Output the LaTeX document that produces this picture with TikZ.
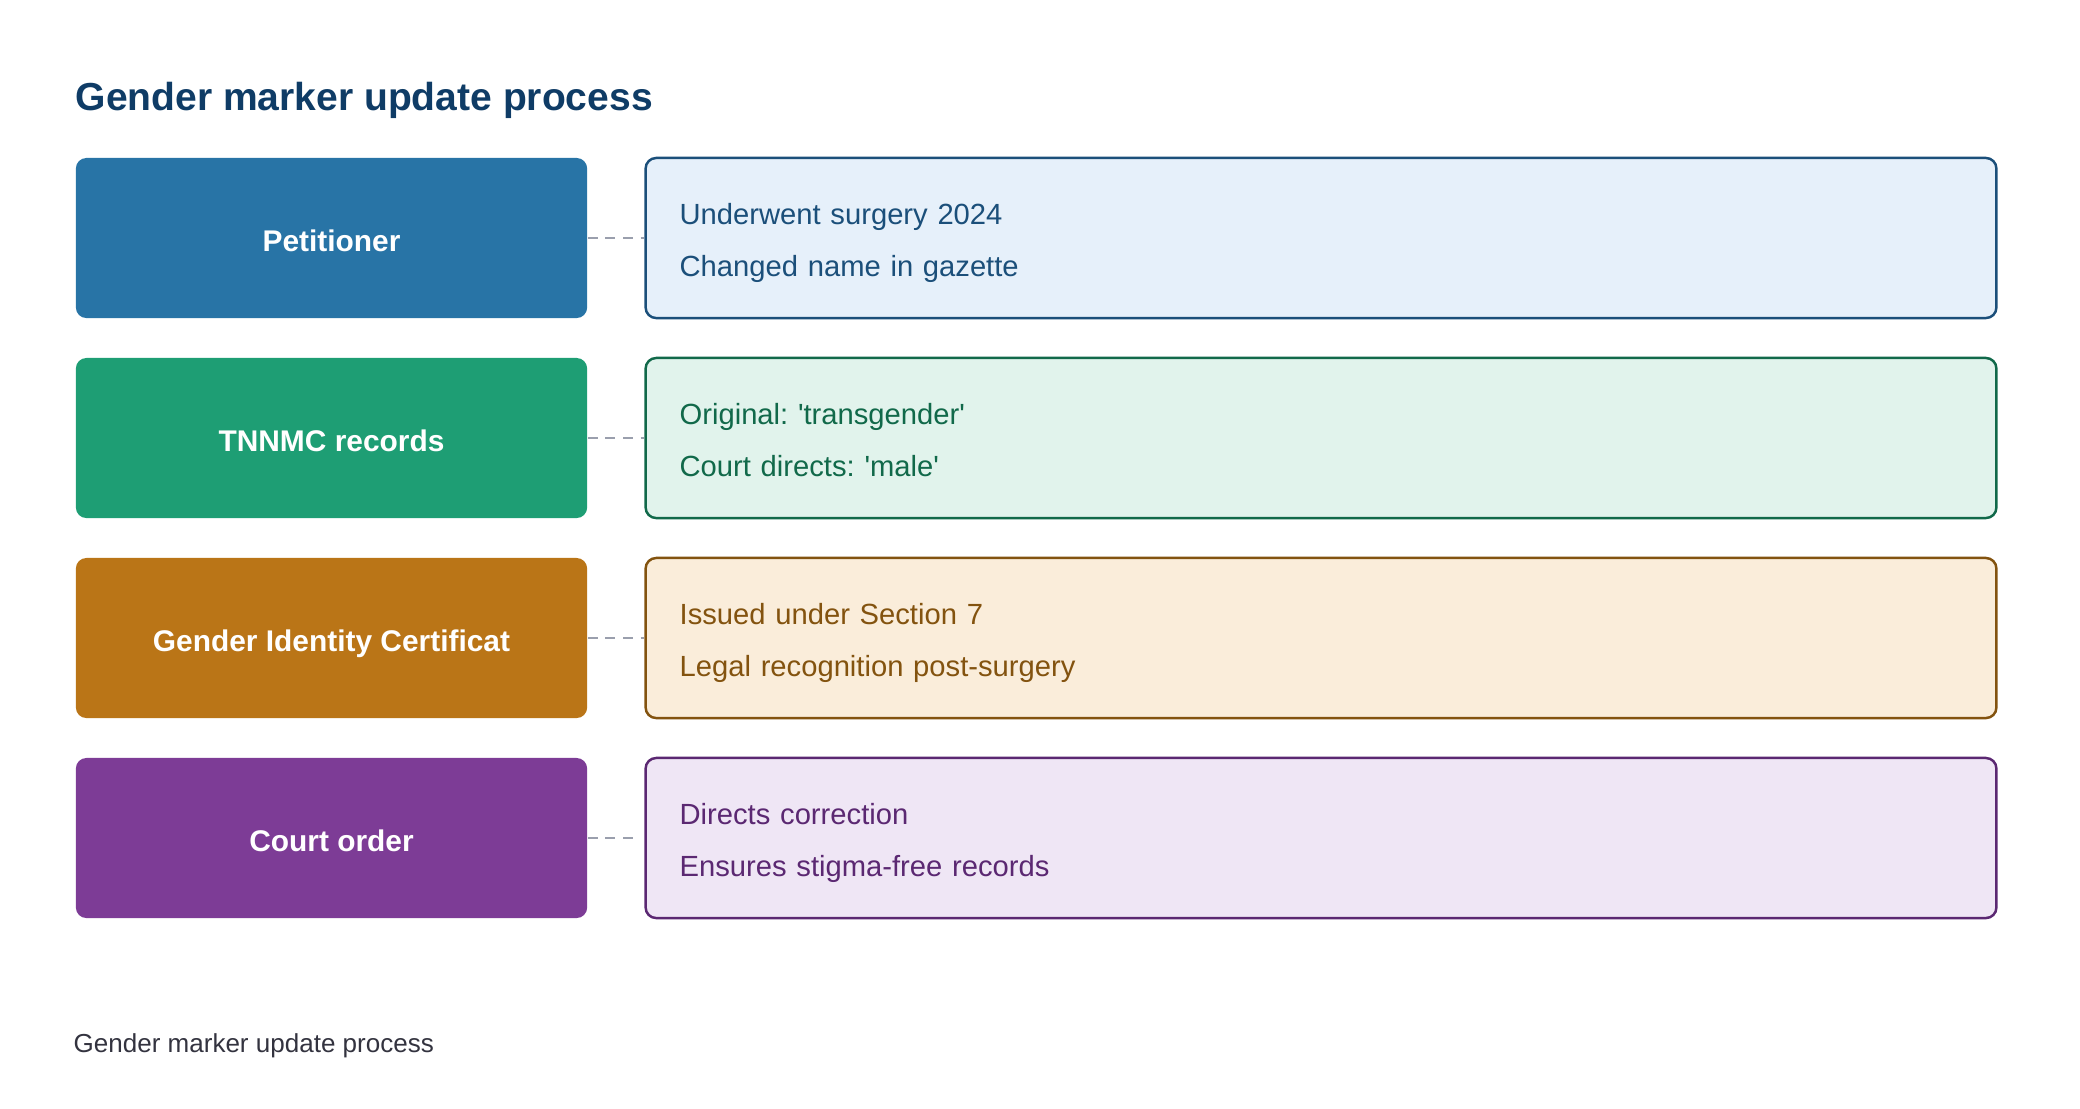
\documentclass[tikz,border=0pt]{standalone}
\usepackage{fontspec}
\setmainfont{Liberation Sans}
\definecolor{petfill}{HTML}{2874A6}
\definecolor{petdark}{HTML}{1B4F7A}
\definecolor{petlight}{HTML}{E6F0FA}
\definecolor{recfill}{HTML}{1E9E74}
\definecolor{recdark}{HTML}{11694A}
\definecolor{reclight}{HTML}{E1F3EC}
\definecolor{certfill}{HTML}{BA7517}
\definecolor{certdark}{HTML}{83530F}
\definecolor{certlight}{HTML}{FAEDDA}
\definecolor{ordfill}{HTML}{7D3C96}
\definecolor{orddark}{HTML}{5B2872}
\definecolor{ordlight}{HTML}{EFE6F5}
\definecolor{titleblue}{HTML}{0F3C66}
\definecolor{footgray}{HTML}{33333F}
\definecolor{linkgray}{HTML}{9A9FAD}
\frenchspacing
\begin{document}
\begin{tikzpicture}[x=0.01cm,y=-0.01cm]
\tikzstyle{who}=[rounded corners=3pt,minimum width=5.11cm,minimum height=1.6cm,
  text height=7.6pt,text depth=0pt,text=white,font=\fontsize{8.5}{10}\selectfont\bfseries];
\tikzstyle{facts}=[draw,line width=0.7pt,rounded corners=3pt,minimum width=13.5cm,minimum height=1.6cm,
  text width=12.82cm,inner xsep=0.34cm,align=left,font=\fontsize{8.3}{14.8}\selectfont,
  execute at begin node={\rule{0pt}{8.9pt}},execute at end node={\rule[-1.8pt]{0pt}{1.8pt}}];
\tikzstyle{link}=[linkgray,line width=0.7pt,dash pattern=on 2.8pt off 2.2pt,shorten >=2pt];
\useasboundingbox (0,0) rectangle (2080,1108);
\node[anchor=west,text=titleblue,font=\fontsize{11.1}{13}\selectfont\bfseries,inner sep=0pt] (title) at (75,100) {Gender marker update process};
\node[who,fill=petfill] (petitioner) at (331.5,238) {Petitioner};
\node[who,fill=recfill] (records) at (331.5,438) {TNNMC records};
\node[who,fill=certfill] (certificate) at (331.5,638) {Gender Identity Certificat};
\node[who,fill=ordfill] (order) at (331.5,838) {Court order};
\node[facts,fill=petlight,draw=petdark,text=petdark] (petfacts) at (1321,238) {Underwent surgery 2024\\Changed name in gazette};
\node[facts,fill=reclight,draw=recdark,text=recdark] (recfacts) at (1321,438) {Original: \textquotesingle transgender\textquotesingle\\Court directs: \textquotesingle male\textquotesingle};
\node[facts,fill=certlight,draw=certdark,text=certdark] (certfacts) at (1321,638) {Issued under Section 7\\Legal recognition post-surgery};
\node[facts,fill=ordlight,draw=orddark,text=orddark] (ordfacts) at (1321,838) {Directs correction\\Ensures stigma-free records};
\node[anchor=west,text=footgray,font=\fontsize{7.4}{9}\selectfont,inner sep=0pt] (caption) at (73,1046) {Gender marker update process};
\draw[link]
(petitioner) -- (petfacts) (records) -- (recfacts)
(certificate) -- (certfacts) (order) -- (ordfacts)
;
\end{tikzpicture}
\end{document}
